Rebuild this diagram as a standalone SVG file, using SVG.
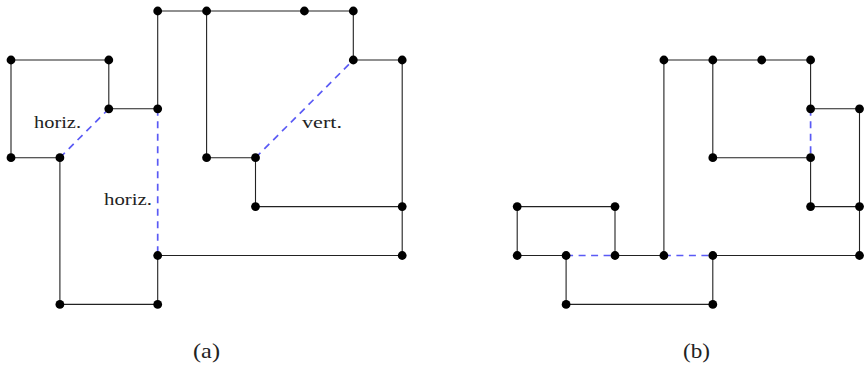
<svg xmlns="http://www.w3.org/2000/svg" width="865" height="366" viewBox="0 0 865 366">
<style>
.e{stroke:#222;stroke-width:1.1;fill:none}
.d{stroke:#5a5af5;stroke-width:1.7;stroke-dasharray:7 5.5;fill:none}
.n{fill:#000}
text{font-family:"Liberation Serif","Times New Roman",serif;fill:#222}
.t{font-size:17.5px}
.c{font-size:21px}
</style>
<rect width="865" height="366" fill="#fff"/>
<g id="connectors">
<path class="e" d="M157.7,11H353.3V60H402.2V255.5H157.7V304.4H59.9V157.7H11V60H108.8V108.8H157.7V11"/>
<path class="e" d="M206.6,11V157.7H255.5V206.6H402.2"/>
<path class="d" d="M59.9,157.7L108.8,108.8"/>
<path class="d" d="M157.7,108.8V255.5"/>
<path class="d" d="M255.5,157.7L353.3,60"/>
<path class="e" d="M663.9,255.5V60H810.6V108.8H859.5V255.5H712.8"/>
<path class="e" d="M712.8,60V157.7H810.6V206.6H859.5"/>
<path class="e" d="M517.2,255.5V206.6H615V255.5"/>
<path class="e" d="M517.2,255.5H566.1V304.4H712.8V255.5"/>
<path class="e" d="M615,255.5H663.9"/>
<path class="d" d="M810.6,108.8V157.7"/>
<path class="d" d="M566.1,255.5H615"/>
<path class="d" d="M663.9,255.5H712.8"/>
</g>
<g id="nodes-a">
<g id="a1"><circle class="n" cx="157.7" cy="11" r="4.4"/></g>
<g id="a2"><circle class="n" cx="206.6" cy="11" r="4.4"/></g>
<g id="a3"><circle class="n" cx="304.4" cy="11" r="4.4"/></g>
<g id="a4"><circle class="n" cx="353.3" cy="11" r="4.4"/></g>
<g id="a5"><circle class="n" cx="11" cy="60" r="4.4"/></g>
<g id="a6"><circle class="n" cx="108.8" cy="60" r="4.4"/></g>
<g id="a7"><circle class="n" cx="353.3" cy="60" r="4.4"/></g>
<g id="a8"><circle class="n" cx="402.2" cy="60" r="4.4"/></g>
<g id="a9"><circle class="n" cx="108.8" cy="108.8" r="4.4"/></g>
<g id="a10"><circle class="n" cx="157.7" cy="108.8" r="4.4"/></g>
<g id="a11"><circle class="n" cx="11" cy="157.7" r="4.4"/></g>
<g id="a12"><circle class="n" cx="59.9" cy="157.7" r="4.4"/></g>
<g id="a13"><circle class="n" cx="206.6" cy="157.7" r="4.4"/></g>
<g id="a14"><circle class="n" cx="255.5" cy="157.7" r="4.4"/></g>
<g id="a15"><circle class="n" cx="255.5" cy="206.6" r="4.4"/></g>
<g id="a16"><circle class="n" cx="402.2" cy="206.6" r="4.4"/></g>
<g id="a17"><circle class="n" cx="157.7" cy="255.5" r="4.4"/></g>
<g id="a18"><circle class="n" cx="402.2" cy="255.5" r="4.4"/></g>
<g id="a19"><circle class="n" cx="59.9" cy="304.4" r="4.4"/></g>
<g id="a20"><circle class="n" cx="157.7" cy="304.4" r="4.4"/></g>
</g>
<g id="nodes-b">
<g id="b1"><circle class="n" cx="663.9" cy="60" r="4.4"/></g>
<g id="b2"><circle class="n" cx="712.8" cy="60" r="4.4"/></g>
<g id="b3"><circle class="n" cx="761.7" cy="60" r="4.4"/></g>
<g id="b4"><circle class="n" cx="810.6" cy="60" r="4.4"/></g>
<g id="b5"><circle class="n" cx="810.6" cy="108.8" r="4.4"/></g>
<g id="b6"><circle class="n" cx="859.5" cy="108.8" r="4.4"/></g>
<g id="b7"><circle class="n" cx="712.8" cy="157.7" r="4.4"/></g>
<g id="b8"><circle class="n" cx="810.6" cy="157.7" r="4.4"/></g>
<g id="b9"><circle class="n" cx="517.2" cy="206.6" r="4.4"/></g>
<g id="b10"><circle class="n" cx="615" cy="206.6" r="4.4"/></g>
<g id="b11"><circle class="n" cx="810.6" cy="206.6" r="4.4"/></g>
<g id="b12"><circle class="n" cx="859.5" cy="206.6" r="4.4"/></g>
<g id="b13"><circle class="n" cx="517.2" cy="255.5" r="4.4"/></g>
<g id="b14"><circle class="n" cx="566.1" cy="255.5" r="4.4"/></g>
<g id="b15"><circle class="n" cx="615" cy="255.5" r="4.4"/></g>
<g id="b16"><circle class="n" cx="663.9" cy="255.5" r="4.4"/></g>
<g id="b17"><circle class="n" cx="712.8" cy="255.5" r="4.4"/></g>
<g id="b18"><circle class="n" cx="859.5" cy="255.5" r="4.4"/></g>
<g id="b19"><circle class="n" cx="566.1" cy="304.4" r="4.4"/></g>
<g id="b20"><circle class="n" cx="712.8" cy="304.4" r="4.4"/></g>
</g>
<g id="labels">
<text class="t" x="34" y="128" textLength="47" lengthAdjust="spacingAndGlyphs">horiz.</text>
<text class="t" x="104" y="205" textLength="48" lengthAdjust="spacingAndGlyphs">horiz.</text>
<text class="t" x="302" y="128" textLength="40" lengthAdjust="spacingAndGlyphs">vert.</text>
<text class="c" x="193" y="358" textLength="27" lengthAdjust="spacingAndGlyphs">(a)</text>
<text class="c" x="683" y="358" textLength="27" lengthAdjust="spacingAndGlyphs">(b)</text>
</g>
</svg>
